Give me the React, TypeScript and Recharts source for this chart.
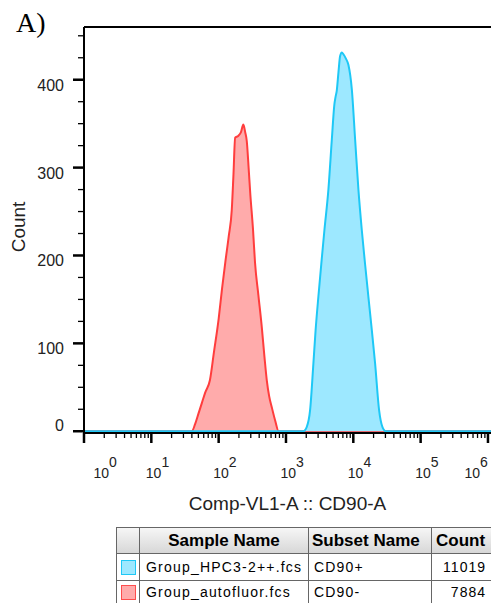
import { Area, AreaChart, ReferenceLine, XAxis, YAxis } from 'recharts'

// decade = log10 of Comp-VL1-A intensity
const redDecades = [0, 1.6, 1.65, 1.7, 1.75, 1.8, 1.87, 1.93, 2.0, 2.05, 2.1, 2.15, 2.195, 2.22, 2.245, 2.29, 2.33, 2.367, 2.395, 2.418, 2.445, 2.47, 2.51, 2.54, 2.59, 2.64, 2.68, 2.715, 2.75, 2.79, 2.84, 2.89, 6.06]
const redCounts = [0, 0, 8, 20, 32, 44, 58, 90, 128, 162, 193, 222, 252, 292, 334, 336, 340, 349, 340, 330, 300, 270, 230, 192, 155, 119, 85, 58, 40, 27, 12, 0, 0]

const blueDecades = [0, 3.258, 3.309, 3.358, 3.407, 3.44, 3.481, 3.53, 3.571, 3.63, 3.681, 3.719, 3.735, 3.755, 3.779, 3.804, 3.83, 3.853, 3.89, 3.927, 3.978, 4.027, 4.076, 4.126, 4.175, 4.224, 4.275, 4.324, 4.383, 4.432, 4.483, 6.06]
const blueCounts = [0, 0, 5, 24, 77, 115, 153, 195, 229, 275, 332, 372, 380, 388, 408, 427, 431, 429, 424, 417, 389, 332, 275, 229, 190, 153, 115, 77, 24, 5, 0, 0]

const majorDecades = [0, 1, 2, 3, 4, 5, 6]
const yTicks = [0, 25, 50, 75, 100, 125, 150, 175, 200, 225, 250, 275, 300, 325, 350, 375, 400, 425, 450]

const sampleNames = ['Group_HPC3-2++.fcs', 'Group_autofluor.fcs']
const subsetNames = ['CD90+', 'CD90-']
const eventCounts = ['11019', '7884']

const red = redDecades.map((d, i) => ({ d, count: redCounts[i] }))
const blue = blueDecades.map((d, i) => ({ d, count: blueCounts[i] }))

const xTicks: number[] = []
majorDecades.forEach((d) => {
  xTicks.push(d)
  if (d < 6) for (let k = 2; k <= 9; k++) xTicks.push(d + Math.log10(k))
})

const font = '"Liberation Sans", Arial, sans-serif'
const swatches = [
  { fill: '#9de8ff', stroke: '#1ec8f6' },
  { fill: '#ffabab', stroke: '#ff4d4d' },
]

function XTick(props: any) {
  const { x, y, payload } = props
  const v = payload.value
  const d = Math.round(v)
  if (Math.abs(v - d) > 1e-6) {
    return <line x1={x} x2={x} y1={y} y2={y + 5} stroke="#000" strokeWidth={1.3} />
  }
  const shift = d === 0 ? 15 : d === 6 ? -18 : 0
  return (
    <g>
      <line x1={x} x2={x} y1={y} y2={y + 10} stroke="#000" strokeWidth={2.5} />
      <text x={x - 5.5 + shift} y={y + 45} fontSize={14} fontFamily={font} fill="#222">
        10<tspan dy={-11.5}>{d}</tspan>
      </text>
    </g>
  )
}

function YTick(props: any) {
  const { x, y, payload } = props
  const v = payload.value
  const major = v % 100 === 0 && v <= 400
  return (
    <g>
      <line x1={x - (major ? 11 : 6)} x2={x} y1={y} y2={y} stroke="#000" strokeWidth={major ? 2.5 : 1.3} />
      {major && (
        <text x={64} y={v === 0 ? y : y + 11} textAnchor="end" fontSize={16} fontFamily={font} fill="#222">
          {v}
        </text>
      )}
    </g>
  )
}

const cell = {
  border: '1px solid #666',
  padding: '0 5px',
  whiteSpace: 'nowrap' as const,
  overflow: 'hidden',
}

export default function App() {
  return (
    <div style={{ position: 'absolute', left: 0, top: 0, width: 491, height: 603, overflow: 'hidden', background: '#fff' }}>
      <AreaChart width={492} height={560} margin={{ top: 27, right: 0, left: 0, bottom: 0 }}>
        <XAxis
          type="number"
          dataKey="d"
          domain={[0, 6.06]}
          ticks={xTicks}
          interval={0}
          tick={<XTick />}
          tickLine={false}
          tickSize={0}
          tickMargin={0}
          axisLine={{ stroke: '#000', strokeWidth: 2 }}
          height={127}
          allowDataOverflow
        />
        <YAxis
          type="number"
          domain={[-2, 460]}
          ticks={yTicks}
          interval={0}
          tick={<YTick />}
          tickLine={false}
          tickSize={0}
          tickMargin={0}
          axisLine={{ stroke: '#000', strokeWidth: 2 }}
          width={84}
          allowDataOverflow
        />
        <ReferenceLine y={460} stroke="#000" strokeWidth={2} />
        <Area
          data={red}
          dataKey="count"
          type="monotone"
          stroke="#ff3d3d"
          strokeWidth={2}
          fill="#ffabab"
          fillOpacity={1}
          isAnimationActive={false}
        />
        <Area
          data={blue}
          dataKey="count"
          type="monotone"
          stroke="#1ec8f6"
          strokeWidth={2}
          fill="#9de8ff"
          fillOpacity={1}
          isAnimationActive={false}
        />
      </AreaChart>

      <svg width={491} height={603} style={{ position: 'absolute', left: 0, top: 0, pointerEvents: 'none' }}>
        <text x={16} y={32} fontSize={28} fontFamily='"Liberation Serif", "Times New Roman", serif' fill="#000">
          A)
        </text>
        <text x={25} y={227} transform="rotate(-90, 25, 227)" textAnchor="middle" fontSize={19} fontFamily={font} fill="#222">
          Count
        </text>
        <text x={287.5} y={510} textAnchor="middle" fontSize={19} fontFamily={font} fill="#222">
          Comp-VL1-A :: CD90-A
        </text>
      </svg>

      <table
        style={{
          position: 'absolute',
          left: 116,
          top: 527,
          borderCollapse: 'collapse',
          tableLayout: 'fixed',
          width: 420,
          fontFamily: font,
          color: '#000',
        }}
      >
        <colgroup>
          <col style={{ width: 23 }} />
          <col style={{ width: 169 }} />
          <col style={{ width: 123 }} />
          <col style={{ width: 105 }} />
        </colgroup>
        <thead>
          <tr style={{ height: 26, background: 'linear-gradient(#f6f6f6, #d6d6d6)' }}>
            <th style={cell} />
            <th style={{ ...cell, fontSize: 17, textAlign: 'center' }}>Sample Name</th>
            <th style={{ ...cell, fontSize: 17, textAlign: 'left', padding: '0 3px' }}>Subset Name</th>
            <th style={{ ...cell, fontSize: 17, textAlign: 'left', padding: '0 4px' }}>Count</th>
          </tr>
        </thead>
        <tbody>
          {sampleNames.map((name, i) => (
            <tr key={name} style={{ height: i === 0 ? 27 : 23 }}>
              <td style={{ ...cell, padding: 0, textAlign: 'center' }}>
                <div
                  style={{
                    width: 13,
                    height: 13,
                    margin: '0 auto',
                    background: swatches[i].fill,
                    border: `1.5px solid ${swatches[i].stroke}`,
                  }}
                />
              </td>
              <td style={{ ...cell, fontSize: 14, letterSpacing: 1.2, padding: '0 6px' }}>{name}</td>
              <td style={{ ...cell, fontSize: 14, letterSpacing: 1.2 }}>{subsetNames[i]}</td>
              <td style={{ ...cell, fontSize: 14, letterSpacing: 1, textAlign: 'right', paddingRight: 50 }}>{eventCounts[i]}</td>
            </tr>
          ))}
        </tbody>
      </table>
    </div>
  )
}
